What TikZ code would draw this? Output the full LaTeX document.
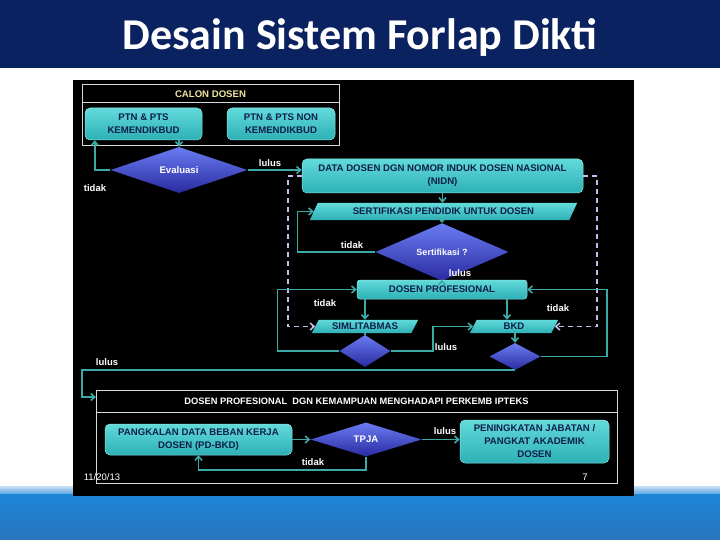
\documentclass[tikz,border=0pt]{standalone}
\usepackage{fontspec}
\setmainfont{Liberation Sans}
\newfontfamily\titlefont{Carlito}
\usetikzlibrary{shapes.geometric,arrows.meta}
\pgfdeclarelayer{back}
\pgfdeclarelayer{bg}
\pgfsetlayers{back,bg,main}
\definecolor{navy}{HTML}{0B2261}
\definecolor{tealtop}{HTML}{62DADA}
\definecolor{tealbot}{HTML}{2DB0B5}
\definecolor{tealedge}{HTML}{8DE6E6}
\definecolor{conncol}{HTML}{3CAAA6}
\definecolor{lavdash}{HTML}{C4BCEE}
\definecolor{boxtext}{HTML}{0E1E48}
\definecolor{diatop}{HTML}{6A7CF2}
\definecolor{diabot}{HTML}{2A2AA0}
\definecolor{calon}{HTML}{F0E6A2}
\definecolor{bandtop}{HTML}{C8E0F4}
\definecolor{bandmid}{HTML}{5AA6E0}
\definecolor{bandhi}{HTML}{1C86D8}
\definecolor{bandlo}{HTML}{2A74BE}
\begin{document}
\begin{tikzpicture}[x=1pt,y=-1pt,
  tbox/.style={rectangle, rounded corners=5pt, top color=tealtop, bottom color=tealbot, draw=tealedge, line width=0.5pt, text=boxtext, font=\fontsize{9.6}{13}\selectfont\bfseries, align=center, inner sep=0pt},
  para/.style={rectangle, inner sep=0pt, text=boxtext, font=\fontsize{9.6}{13}\selectfont\bfseries},
  dia/.style={diamond, inner sep=0pt, top color=diatop, bottom color=diabot, text=white, font=\fontsize{9.6}{12}\selectfont\bfseries},
  link/.style={draw=conncol, line width=1.6pt, -{Straight Barb[length=4pt,width=7pt]}},
  plain/.style={draw=conncol, line width=1.6pt},
  dashlink/.style={draw=lavdash, line width=1.6pt, dash pattern=on 5pt off 4pt, -{Straight Barb[length=4pt,width=7pt]}},
  lbl/.style={text=white, font=\fontsize{9.5}{11}\selectfont\bfseries, inner sep=0pt},
  frame/.style={draw=white!85!black, line width=0.8pt}
]
\useasboundingbox (0,0) rectangle (720,540);
\begin{pgfonlayer}{back}
  \fill[white] (0,0) rectangle (720,540);
  \fill[navy] (0,0) rectangle (720,68);
  \shade[top color=bandtop, bottom color=bandmid] (0,486) rectangle (720,494);
  \shade[top color=bandhi, bottom color=bandlo] (0,494) rectangle (720,540);
  \fill[black] (73,80) rectangle (634,496);
\end{pgfonlayer}

\node[text=white, anchor=base, font=\titlefont\fontsize{44}{50}\selectfont\bfseries] (title) at (360,50) {Desain Sistem Forlap Dikti};

% calon dosen block
\node[frame, rectangle, minimum width=257pt, minimum height=61pt, inner sep=0pt] (calon) at (210.5,114.5) {};
\draw[frame] ([yshift=-19pt]calon.north west) -- ([yshift=-19pt]calon.north east);
\node[text=calon, font=\fontsize{9.6}{12}\selectfont\bfseries] (calont) at (210.5,94) {CALON DOSEN};
\node[tbox, minimum width=117pt, minimum height=32pt] (ptnA) at (143.5,124) {PTN \& PTS\\KEMENDIKBUD};
\node[tbox, minimum width=108pt, minimum height=32pt] (ptnB) at (281,124) {PTN \& PTS NON\\KEMENDIKBUD};

\node[dia, minimum width=137pt, minimum height=35pt] (eval) at (179,170) {Evaluasi};
\node[tbox, minimum width=281pt, minimum height=34pt] (data) at (442.5,176) {DATA DOSEN DGN NOMOR INDUK DOSEN NASIONAL\\(NIDN)};
\node[para, minimum width=259pt, minimum height=17pt] (sert) at (443.5,211.5) {SERTIFIKASI PENDIDIK UNTUK DOSEN};
\node[dia, minimum width=133pt, minimum height=31pt, font=\fontsize{9}{11}\selectfont\bfseries] (sertd) at (442,252) {Sertifikasi ?};
\node[tbox, rounded corners=3pt, minimum width=170pt, minimum height=19pt] (dp) at (442,289.5) {DOSEN PROFESIONAL};
\node[para, minimum width=99pt, minimum height=13pt] (sim) at (365,326.5) {SIMLITABMAS};
\node[para, minimum width=81pt, minimum height=13pt] (bkd) at (514,326.5) {BKD};
\node[dia, minimum width=51pt, minimum height=32pt] (simd) at (365,351) {};
\node[dia, minimum width=51pt, minimum height=27pt] (bkdd) at (515,356.5) {};

% bottom block
\node[frame, rectangle, minimum width=521pt, minimum height=93pt, inner sep=0pt] (box2) at (356.5,436.5) {};
\draw[frame] ([yshift=-23pt]box2.north west) -- ([yshift=-23pt]box2.north east);
\node[text=white, font=\fontsize{9.3}{11}\selectfont\bfseries] (box2t) at (356.5,401) {DOSEN PROFESIONAL\ \ DGN KEMAMPUAN MENGHADAPI PERKEMB IPTEKS};
\node[tbox, minimum width=187pt, minimum height=31pt] (pd) at (198.5,439.5) {PANGKALAN DATA BEBAN KERJA\\DOSEN (PD-BKD)};
\node[dia, minimum width=111pt, minimum height=34pt] (tpja) at (366,439.5) {TPJA};
\node[tbox, minimum width=149pt, minimum height=43pt] (pen) at (534.5,441.5) {PENINGKATAN JABATAN /\\PANGKAT AKADEMIK\\DOSEN};

\begin{pgfonlayer}{bg}
  \foreach \n/\s in {sert/4, sim/3.5, bkd/3.5} {
    \shade[top color=tealtop, bottom color=tealbot] ([xshift=\s pt]\n.north west) -- ([xshift=\s pt]\n.north east) -- ([xshift=-\s pt]\n.south east) -- ([xshift=-\s pt]\n.south west) -- cycle;
  }
\end{pgfonlayer}

% connectors
\draw[link] (ptnA.south -| eval.north) -- (eval.north);
\draw[link] (eval.west) -| ([xshift=10pt]ptnA.south west);
\draw[link] (eval.east) -- (eval.east -| data.west);
\draw[dashlink] (data.west) -- ++(-14,0) |- (sim.west);
\draw[dashlink] (data.east) -- ++(14,0) |- (bkd.east);
\draw[link] (data.south) -- (data.south |- sert.north);
\draw[link] (sert.south -| sertd.north) -- (sertd.north);
\draw[link] (sertd.west) -- ++(-78,0) |- (sert.west);
\draw[link] (sertd.south) -- (dp.north);
\draw[link] (dp.south -| sim.north) -- (sim.north);
\draw[link] ([xshift=-7pt]dp.south -| bkd.north) -- ([xshift=-7pt]bkd.north);
\draw[plain] (sim.south) -- (simd.north);
\draw[link] (simd.west) -- ++(-62,0) |- (dp.west);
\draw[link] (simd.east) -- ++(42,0) |- (bkd.west);
\draw[link] (bkd.south -| bkdd.north) -- (bkdd.north);
\draw[link] (bkdd.east) -- ++(66,0) |- (dp.east);
\coordinate (in2) at (96,397);
\draw[link] (bkdd.south) -- ++(-433,0) |- (in2);
\draw[link] (pd.east) -- (tpja.west);
\draw[link] (tpja.east) -- (tpja.east -| pen.west);
\draw[link] (tpja.south) -- ++(0,13) -| (pd.south);

% labels
\node[lbl] (l1) at (95,188) {tidak};
\node[lbl] (l2) at (270,163) {lulus};
\node[lbl] (l3) at (352,245) {tidak};
\node[lbl] (l4) at (460,273) {lulus};
\node[lbl] (l5) at (325,303) {tidak};
\node[lbl] (l6) at (558,308) {tidak};
\node[lbl] (l7) at (446,347) {lulus};
\node[lbl] (l8) at (107,362) {lulus};
\node[lbl] (l9) at (445,431) {lulus};
\node[lbl] (l10) at (313,462) {tidak};
\node[text=white, font=\fontsize{9.5}{11}\selectfont] (date) at (102,477) {11/20/13};
\node[text=white, font=\fontsize{9.5}{11}\selectfont] (page) at (585,477) {7};
\end{tikzpicture}
\end{document}
